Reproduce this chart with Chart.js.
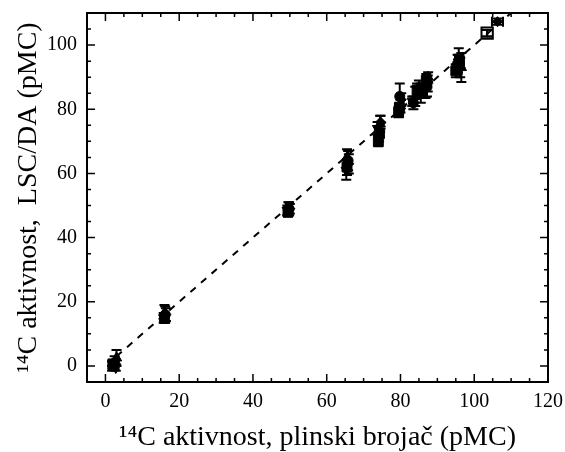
<!DOCTYPE html>
<html>
<head>
<meta charset="utf-8">
<script src="https://cdn.jsdelivr.net/npm/chart.js@4.4.1/dist/chart.umd.min.js"></script>
<style>
  html, body { margin: 0; padding: 0; background: #fff; }
  #wrap { width: 565px; height: 452px; }
</style>
</head>
<body>
<div id="wrap"><canvas id="c"></canvas></div>
<script>
// axis ticks
const xTicks = [0, 20, 40, 60, 80, 100, 120];
const yTicks = [0, 20, 40, 60, 80, 100];

// series (pMC)
const sqX = [2.0, 16.0, 49.5, 65.5, 74.0, 74.3, 79.5, 79.7, 84.5, 87.0, 95.0, 95.6, 96.0];
const sqY = [0.5, 15.0, 48.0, 62.0, 70.0, 72.5, 79.0, 80.5, 86.0, 89.0, 92.0, 93.5, 95.0];
const sqErr = [1.5, 1.5, 1.5, 2.5, 1.5, 1.5, 1.5, 1.5, 2.0, 2.0, 2.0, 2.0, 2.0];

const ciX = [2.5, 16.2, 49.8, 65.8, 74.2, 79.8, 83.5, 85.5, 87.2, 95.5];
const ciY = [1.0, 16.0, 49.0, 64.0, 73.0, 84.0, 82.0, 85.0, 87.0, 94.0];
const ciErr = [2.0, 2.5, 2.0, 3.0, 3.0, 4.0, 2.0, 3.0, 3.0, 3.0];

const trX = [3.0, 16.0, 49.6, 65.5, 74.5, 80.0, 84.0, 87.5, 96.5];
const trY = [2.5, 16.5, 49.5, 65.0, 75.5, 81.0, 84.0, 90.0, 93.0];
const trErr = [2.5, 2.5, 1.5, 2.5, 2.5, 2.0, 3.0, 1.5, 4.5];

const tdX = [2.8, 15.8, 49.3, 65.3, 73.8, 79.6, 83.2, 86.8, 95.8];
const tdY = [-0.5, 15.0, 48.5, 61.0, 74.0, 80.0, 82.5, 86.0, 96.0];
const tdErr = [1.0, 1.5, 1.5, 3.0, 2.0, 1.5, 1.5, 2.5, 3.0];

const diX = [1.8, 16.4, 50.0, 66.0, 74.6, 80.2, 85.0, 87.4, 96.2, 103.5, 106.3];
const diY = [0.0, 16.0, 49.0, 63.0, 76.0, 83.0, 87.0, 88.0, 93.0, 103.7, 107.3];
const diErr = [1.5, 2.0, 1.5, 3.0, 2.0, 2.0, 2.0, 2.5, 3.0, 1.0, 1.0];
const diXErr = [0, 0, 0, 0, 0, 0, 0, 0, 0, 0, 1.5];

const osX = [103.5];
const osY = [103.7];
const osErr = [1.0];

// y = x reference line
const lineX = [3, 112];

const pts = (xs, ys) => xs.map((v, i) => ({ x: v, y: ys[i] }));

const serif = "'Liberation Serif', 'Times New Roman', serif";

// vertical/horizontal error bars, drawn through the scales
const errorBars = {
  id: 'errorBars',
  afterDatasetsDraw(chart) {
    const { ctx, scales: { x, y } } = chart;
    const cap = 5;
    ctx.save();
    ctx.strokeStyle = '#000';
    ctx.lineWidth = 2;
    chart.data.datasets.forEach(ds => {
      if (!ds.yErr) return;
      ds.data.forEach((p, i) => {
        const px = x.getPixelForValue(p.x);
        const e = ds.yErr[i];
        if (e) {
          const t = y.getPixelForValue(p.y + e);
          const b = y.getPixelForValue(p.y - e);
          ctx.beginPath();
          ctx.moveTo(px, t); ctx.lineTo(px, b);
          ctx.moveTo(px - cap, t); ctx.lineTo(px + cap, t);
          ctx.moveTo(px - cap, b); ctx.lineTo(px + cap, b);
          ctx.stroke();
        }
        const xe = ds.xErr ? ds.xErr[i] : 0;
        if (xe) {
          const py = y.getPixelForValue(p.y);
          const l = x.getPixelForValue(p.x - xe);
          const r = x.getPixelForValue(p.x + xe);
          ctx.beginPath();
          ctx.moveTo(l, py); ctx.lineTo(r, py);
          ctx.moveTo(l, py - cap); ctx.lineTo(l, py + cap);
          ctx.moveTo(r, py - cap); ctx.lineTo(r, py + cap);
          ctx.stroke();
        }
      });
    });
    ctx.restore();
  }
};

// frame with inward ticks on all four sides
const frame = {
  id: 'frame',
  afterDraw(chart) {
    const { ctx, chartArea: a, scales: { x, y } } = chart;
    ctx.save();
    ctx.strokeStyle = '#000';
    ctx.lineWidth = 2;
    ctx.strokeRect(a.left, a.top, a.right - a.left, a.bottom - a.top);
    ctx.lineWidth = 1.5;
    ctx.beginPath();
    for (let v = 0; v <= 120; v += 5) {
      const px = x.getPixelForValue(v);
      const len = v % 20 === 0 ? 8 : 4;
      ctx.moveTo(px, a.bottom); ctx.lineTo(px, a.bottom - len);
      ctx.moveTo(px, a.top); ctx.lineTo(px, a.top + len);
    }
    for (let v = 0; v <= 110; v += 5) {
      const py = y.getPixelForValue(v);
      const len = v % 20 === 0 ? 8 : 4;
      ctx.moveTo(a.left, py); ctx.lineTo(a.left + len, py);
      ctx.moveTo(a.right, py); ctx.lineTo(a.right - len, py);
    }
    ctx.stroke();
    ctx.restore();
  }
};

const black = '#000';

new Chart(document.getElementById('c'), {
  type: 'scatter',
  data: {
    datasets: [
      {
        type: 'line',
        data: pts(lineX, lineX),
        borderColor: black,
        borderWidth: 2,
        borderDash: [7, 7],
        pointRadius: 0,
        fill: false
      },
      { data: pts(sqX, sqY), yErr: sqErr, pointStyle: 'rect', pointRadius: 7,
        backgroundColor: black, borderColor: black },
      { data: pts(ciX, ciY), yErr: ciErr, pointStyle: 'circle', pointRadius: 5,
        backgroundColor: black, borderColor: black },
      { data: pts(trX, trY), yErr: trErr, pointStyle: 'triangle', pointRadius: 6,
        backgroundColor: black, borderColor: black },
      { data: pts(tdX, tdY), yErr: tdErr, pointStyle: 'triangle', rotation: 180, pointRadius: 6,
        backgroundColor: black, borderColor: black },
      { data: pts(osX, osY), yErr: osErr, pointStyle: 'rect', pointRadius: 8,
        backgroundColor: '#fff', borderColor: black, borderWidth: 2 },
      { data: pts(diX, diY), yErr: diErr, xErr: diXErr, pointStyle: 'rectRot', pointRadius: 5,
        backgroundColor: black, borderColor: black }
    ]
  },
  options: {
    responsive: true,
    maintainAspectRatio: false,
    animation: false,
    layout: { padding: { left: 0, right: 17, top: 13, bottom: 0 } },
    plugins: {
      legend: { display: false },
      tooltip: { enabled: false }
    },
    scales: {
      x: {
        type: 'linear',
        min: -5,
        max: 120,
        grid: { display: false, drawTicks: false },
        border: { display: false },
        afterBuildTicks: s => { s.ticks = xTicks.map(v => ({ value: v })); },
        afterFit: s => { s.height = 70; s.paddingLeft = 0; s.paddingRight = 0; },
        ticks: {
          color: black,
          padding: 8,
          maxRotation: 0,
          font: { family: serif, size: 20 }
        },
        title: {
          display: true,
          text: '¹⁴C aktivnost, plinski brojač (pMC)',
          color: black,
          padding: { top: 0, bottom: 0 },
          font: { family: serif, size: 28, lineHeight: 1 }
        }
      },
      y: {
        type: 'linear',
        min: -5,
        max: 110,
        grid: { display: false, drawTicks: false },
        border: { display: false },
        afterBuildTicks: s => { s.ticks = yTicks.map(v => ({ value: v })); },
        afterFit: s => { s.width = 87; s.paddingTop = 0; s.paddingBottom = 0; },
        ticks: {
          color: black,
          padding: 10,
          font: { family: serif, size: 20 }
        },
        title: {
          display: true,
          text: '¹⁴C aktivnost,  LSC/DA (pMC)',
          color: black,
          padding: { top: 15, bottom: 0 },
          font: { family: serif, size: 28, lineHeight: 1 }
        }
      }
    }
  },
  plugins: [errorBars, frame]
});
</script>
</body>
</html>
